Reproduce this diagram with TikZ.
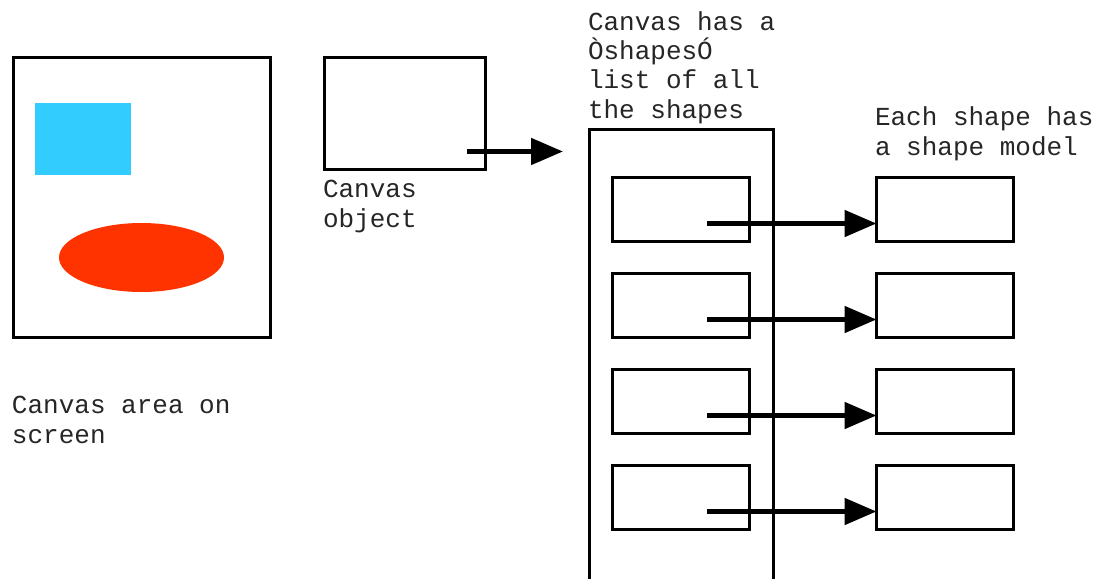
\documentclass[tikz,border=0pt]{standalone}
\usepackage{fontspec}
\setmainfont{Liberation Mono}
\usetikzlibrary{arrows.meta}
\definecolor{skyblue}{HTML}{33CCFF}
\definecolor{redorange}{HTML}{FF3300}
\begin{document}
\begin{tikzpicture}[x=1pt,y=-1pt,
  box/.style={draw=black,line width=3pt,inner sep=0pt,outer sep=0pt,anchor=north west,fill=white},
  item/.style={box,minimum width=137pt,minimum height=64pt},
  lbl/.style={inner sep=0pt,outer sep=0pt,anchor=base west,align=left,font=\fontsize{26}{29.3}\selectfont,text=black!85},
  ptr/.style={line width=5pt,-{Triangle[length=32pt,width=26pt]}}]
\useasboundingbox (0,0) rectangle (1097,578);
\fill[white] (0,0) rectangle (1097,578);
% screen
\node[box,minimum width=257pt,minimum height=280pt] (screen) at (13.5,57.5) {};
\fill[skyblue] (35,103) rectangle (131,175);
\fill[redorange] (141.5,257.5) ellipse [x radius=82.5pt, y radius=34.5pt];
\node[lbl] (screenlbl) at (12,443) {Canvas area on\\screen};
% canvas object
\node[box,minimum width=161pt,minimum height=112pt] (canvas) at (324.5,57.5) {};
\node[lbl] (canvaslbl) at (323,227) {Canvas\\object};
\coordinate (cstart) at (467,151.5);
\coordinate (list) at (563,151.5);
% list container
\node[box,minimum width=184pt,minimum height=460pt] (container) at (589.5,129.5) {};
\node[lbl] (listlbl) at (588,118) {Canvas has a\\ÒshapesÓ\\list of all\\the shapes};
\node[lbl] (modellbl) at (875,155) {Each shape has\\a shape model};
\foreach \i/\y in {1/177.5,2/273.5,3/369.5,4/465.5}{
  \node[item] (s\i) at (612.5,\y) {};
  \node[item] (m\i) at (876.5,\y) {};
  \coordinate (a\i) at (707,\y+46);
}
\draw[ptr] (cstart) -- (list);
\foreach \i in {1,2,3,4}{
  \draw[ptr] (a\i) -- (a\i -| m\i.west);
}
\end{tikzpicture}
\end{document}
